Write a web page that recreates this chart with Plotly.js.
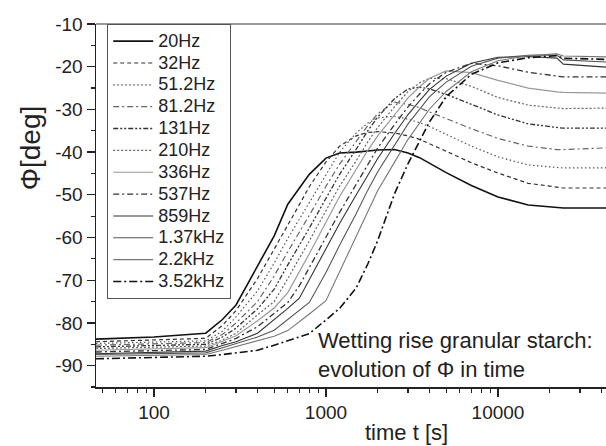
<!DOCTYPE html>
<html>
<head>
<meta charset="utf-8">
<script src="https://cdn.plot.ly/plotly-3.0.1.min.js"></script>
<style>html,body{margin:0;padding:0;background:#fff;}#chart{width:606px;height:446px;}</style>
</head>
<body>
<div id="chart"></div>
<script>
// time in seconds
const timeS = [46, 100, 200, 250, 300, 400, 500, 600, 700, 800, 1000, 1200, 1500, 1750, 2000, 2500, 3000, 3500, 4000, 5000, 7000, 10000, 15000, 22000, 24000, 42500];

// phase angle Phi [deg] per measuring frequency
const phi20Hz   = [-83.8, -83.3, -82.4, -79.2, -75.8, -66.8, -59.6, -52.2, -48.4, -45.2, -41.4, -40.2, -40.0, -39.7, -39.5, -39.4, -40.2, -41.3, -42.6, -44.8, -47.8, -50.5, -52.4, -52.9, -53.1, -53.1];
const phi32Hz   = [-84.4, -84.0, -83.6, -80.6, -77.1, -69.6, -62.8, -56.9, -52.3, -48.1, -42.3, -38.6, -36.2, -35.4, -35.2, -35.5, -36.2, -37.0, -38.0, -39.8, -42.5, -44.9, -47.3, -48.3, -48.4, -48.4];
const phi51Hz   = [-84.8, -84.5, -84.2, -81.9, -78.6, -72.5, -66.0, -60.2, -55.7, -51.6, -45.0, -40.0, -35.5, -33.2, -32.0, -31.6, -32.3, -33.1, -34.0, -35.8, -38.6, -41.1, -43.0, -43.6, -43.7, -43.7];
const phi81Hz   = [-85.2, -84.9, -84.6, -82.7, -80.0, -75.0, -69.0, -63.3, -58.9, -54.8, -48.0, -42.8, -37.5, -33.8, -31.0, -28.3, -28.8, -29.6, -30.6, -32.2, -34.5, -36.8, -38.6, -39.4, -39.4, -39.0];
const phi131Hz  = [-85.6, -85.3, -85.0, -83.3, -81.2, -76.7, -72.1, -66.4, -61.9, -57.8, -50.8, -45.2, -39.3, -35.0, -31.8, -27.5, -25.2, -24.8, -25.2, -26.5, -28.8, -31.3, -33.4, -34.3, -34.4, -34.4];
const phi210Hz  = [-86.0, -85.7, -85.4, -84.0, -82.4, -78.1, -75.0, -69.6, -65.0, -60.8, -53.7, -48.0, -42.0, -37.6, -34.2, -29.4, -25.8, -23.8, -22.7, -22.8, -24.6, -27.2, -29.0, -29.7, -29.8, -29.7];
const phi336Hz  = [-86.4, -86.1, -85.8, -84.3, -83.0, -79.5, -76.5, -72.9, -68.1, -63.8, -56.4, -50.4, -44.0, -39.6, -36.2, -31.2, -27.3, -24.7, -22.7, -21.0, -21.4, -23.2, -25.0, -25.9, -26.0, -26.2];
const phi537Hz  = [-86.8, -86.5, -86.2, -84.8, -83.6, -80.9, -77.8, -75.2, -71.3, -67.1, -60.0, -54.1, -47.5, -42.8, -39.0, -33.6, -29.4, -26.4, -24.0, -21.3, -19.2, -19.8, -21.3, -22.2, -22.4, -22.4];
const phi859Hz  = [-87.2, -86.9, -86.6, -85.3, -84.4, -82.4, -79.3, -76.6, -74.2, -69.9, -62.7, -56.7, -50.0, -45.3, -41.5, -35.7, -31.2, -28.0, -25.3, -22.2, -19.2, -17.8, -17.6, -18.0, -19.4, -20.1];
const phi1370Hz = [-87.4, -87.2, -87.0, -85.8, -84.8, -83.3, -81.7, -79.1, -77.0, -75.2, -68.2, -61.8, -54.4, -48.9, -44.6, -38.3, -33.4, -30.0, -27.0, -23.6, -19.9, -18.0, -17.3, -17.3, -18.4, -18.9];
const phi2200Hz = [-87.8, -87.6, -87.4, -86.4, -85.5, -84.1, -83.1, -81.8, -79.8, -77.9, -74.8, -68.0, -59.8, -53.7, -49.0, -42.4, -37.0, -33.2, -29.9, -25.8, -21.2, -18.6, -17.4, -17.0, -17.5, -17.7];
const phi3520Hz = [-88.4, -88.1, -87.8, -87.4, -87.0, -86.4, -85.2, -84.1, -83.2, -82.5, -79.3, -76.6, -71.8, -66.2, -60.7, -49.8, -42.7, -37.4, -32.9, -27.0, -21.8, -19.1, -17.9, -17.4, -18.0, -18.3];

const seriesNames = ['20Hz', '32Hz', '51.2Hz', '81.2Hz', '131Hz', '210Hz', '336Hz', '537Hz', '859Hz', '1.37kHz', '2.2kHz', '3.52kHz'];
const seriesValues = [phi20Hz, phi32Hz, phi51Hz, phi81Hz, phi131Hz, phi210Hz, phi336Hz, phi537Hz, phi859Hz, phi1370Hz, phi2200Hz, phi3520Hz];

const xTickVals = [100, 1000, 10000];
const xTickText = ['100', '1000', '10000'];
const xMinorVals = [50, 60, 70, 80, 90, 200, 300, 400, 500, 600, 700, 800, 900, 2000, 3000, 4000, 5000, 6000, 7000, 8000, 9000, 20000, 30000, 40000];
const yTickVals = [-10, -20, -30, -40, -50, -60, -70, -80, -90];
const yTickText = ['-10', '-20', '-30', '-40', '-50', '-60', '-70', '-80', '-90'];

// line styles (presentation only)
const styles = [
  {color: '#111111', width: 1.6, dash: 'solid'},
  {color: '#333333', width: 1.2, dash: '4px,3px'},
  {color: '#555555', width: 1.2, dash: '1.5px,2.5px'},
  {color: '#666666', width: 1.2, dash: '6px,3px,2px,3px'},
  {color: '#333333', width: 1.3, dash: '5px,2px,2px,2px,2px,2px'},
  {color: '#666666', width: 1.2, dash: '2px,2px'},
  {color: '#999999', width: 1.2, dash: 'solid'},
  {color: '#333333', width: 1.3, dash: '6px,3px,2px,3px'},
  {color: '#333333', width: 1.1, dash: 'solid'},
  {color: '#555555', width: 1.1, dash: 'solid'},
  {color: '#777777', width: 1.1, dash: 'solid'},
  {color: '#111111', width: 1.6, dash: '8px,3px,2px,3px'}
];

const traces = seriesNames.map((name, i) => ({
  x: timeS,
  y: seriesValues[i],
  name: '<span style="font-size:18px">' + name + '</span>',
  type: 'scatter',
  mode: 'lines',
  line: {color: styles[i].color, width: styles[i].width, dash: styles[i].dash}
}));

const FONT = 'Liberation Sans, Arial, sans-serif';

const layout = {
  width: 606,
  height: 446,
  margin: {l: 96, r: 0, t: 24, b: 59},
  paper_bgcolor: '#ffffff',
  plot_bgcolor: '#ffffff',
  font: {family: FONT, color: '#222222'},
  showlegend: true,
  legend: {
    x: 0.0216, y: 1, xanchor: 'left', yanchor: 'top',
    bgcolor: '#ffffff', bordercolor: '#555555', borderwidth: 1.2,
    font: {family: FONT, size: 14.5, color: '#222222'},
    itemwidth: 40, tracegroupgap: 0
  },
  xaxis: {
    type: 'log',
    range: [1.663, 4.628],
    showgrid: false, zeroline: false,
    showline: true, linecolor: '#222222', linewidth: 1.5,
    ticks: 'outside', ticklen: 8, tickwidth: 1.3, tickcolor: '#222222',
    tickmode: 'array', tickvals: xTickVals, ticktext: xTickText,
    tickfont: {family: FONT, size: 19, color: '#222222'},
    minor: {tickmode: 'array', tickvals: xMinorVals, ticks: 'outside', ticklen: 4, tickwidth: 1.2, tickcolor: '#222222', showgrid: false}
  },
  yaxis: {
    range: [-95, -10],
    showgrid: false, zeroline: false,
    showline: true, linecolor: '#222222', linewidth: 1.5,
    ticks: 'outside', ticklen: 8, tickwidth: 1.3, tickcolor: '#222222',
    tickmode: 'array', tickvals: yTickVals, ticktext: yTickText,
    tickfont: {family: FONT, size: 19, color: '#222222'},
    minor: {dtick: 5, ticks: 'outside', ticklen: 4, tickwidth: 1.2, tickcolor: '#222222', showgrid: false}
  },
  shapes: [
    {type: 'line', xref: 'paper', yref: 'paper', x0: 0, x1: 1, y0: 1, y1: 1, line: {color: '#999999', width: 2}}
  ],
  annotations: [
    {text: 'Φ[deg]', xref: 'paper', yref: 'paper', x: -0.129, y: 0.658, textangle: -90, showarrow: false,
     font: {family: FONT, size: 28, color: '#222222'}, xanchor: 'center', yanchor: 'middle'},
    {text: 'time t [s]', xref: 'paper', yref: 'paper', x: 0.608, y: -0.124, showarrow: false,
     font: {family: FONT, size: 22, color: '#222222'}, xanchor: 'center', yanchor: 'middle'},
    {text: 'Wetting rise granular starch:', xref: 'paper', yref: 'paper', x: 0.432, y: 0.128, showarrow: false,
     font: {family: FONT, size: 22, color: '#222222'}, xanchor: 'left', yanchor: 'middle'},
    {text: 'evolution of Φ in time', xref: 'paper', yref: 'paper', x: 0.432, y: 0.048, showarrow: false,
     font: {family: FONT, size: 22, color: '#222222'}, xanchor: 'left', yanchor: 'middle'}
  ]
};

Plotly.newPlot('chart', traces, layout, {displayModeBar: false, staticPlot: true});
</script>
</body>
</html>
